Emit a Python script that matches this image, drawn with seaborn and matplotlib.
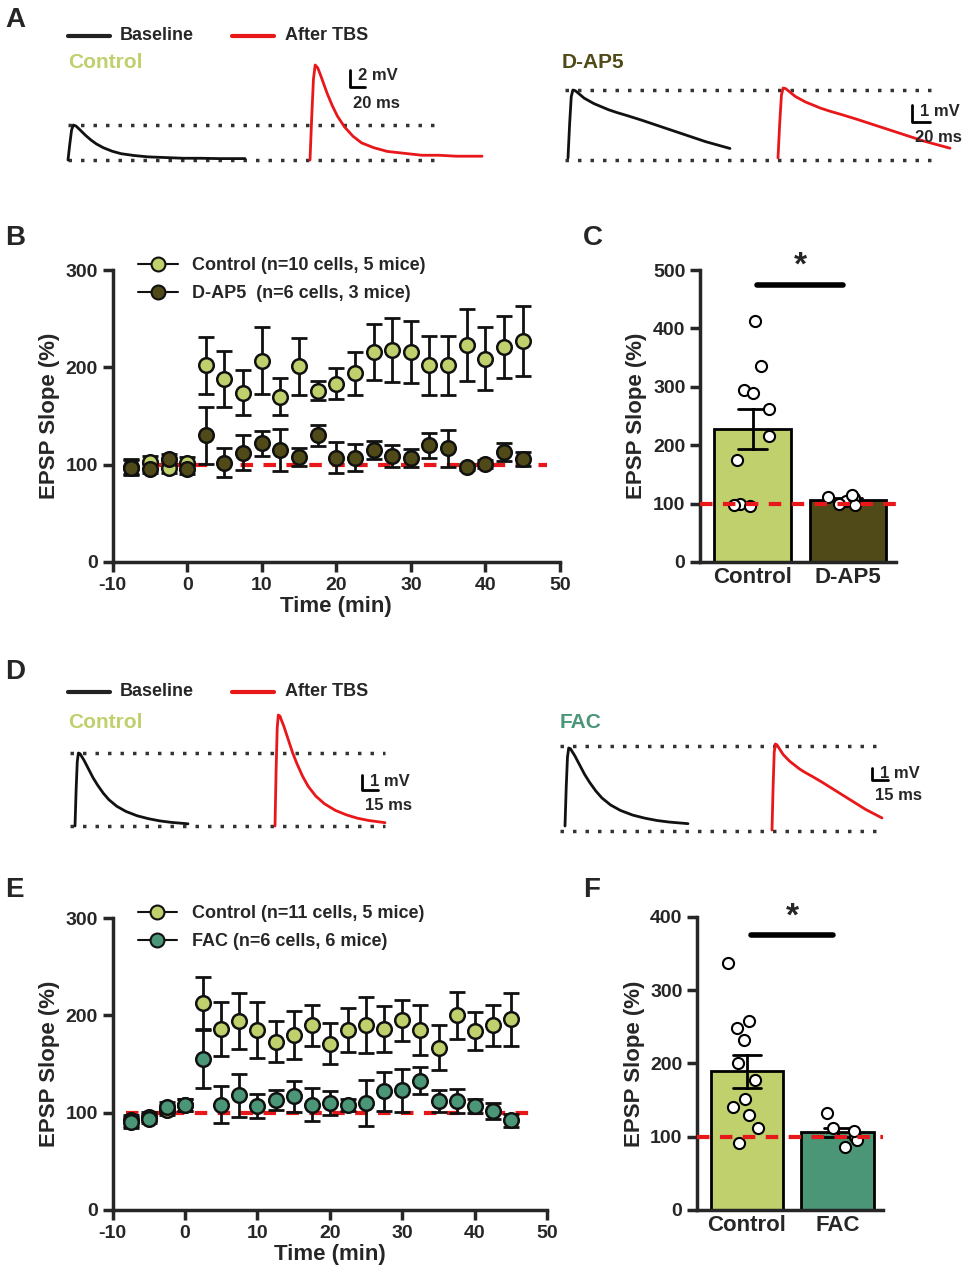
import numpy as np
import pandas as pd
import seaborn as sns
import matplotlib.pyplot as plt
from matplotlib.lines import Line2D

sns.set_style("ticks")
plt.rcParams['font.family'] = ['Liberation Sans', 'DejaVu Sans']
plt.rcParams['font.weight'] = 'bold'
plt.rcParams['axes.labelweight'] = 'bold'
plt.rcParams['axes.unicode_minus'] = False

# colours
c_ctrl = '#bfd06c'
c_ap5 = '#4f4a17'
c_fac = '#4a9676'
c_red = '#e8171a'

# ---- time course data (B) ----
time = [-7.5, -5, -2.5, 0, 2.5, 5, 7.5, 10, 12.5, 15, 17.5, 20, 22.5, 25, 27.5, 30,
        32.5, 35, 37.5, 40, 42.5, 45]
b_ctrl = [98, 103, 97, 102, 202, 188, 174, 207, 170, 201, 176, 183, 194, 216, 218, 216,
          202, 202, 223, 209, 221, 227]
b_ctrl_err = [8, 6, 6, 6, 29, 29, 23, 34, 19, 29, 10, 16, 22, 29, 33, 32, 30, 30, 37, 32, 32, 36]
b_ap5 = [97, 96, 106, 96, 130, 102, 112, 122, 115, 108, 130, 107, 107, 115, 109, 107,
         120, 117, 98, 101, 113, 106]
b_ap5_err = [8, 5, 5, 6, 29, 15, 18, 13, 22, 9, 11, 16, 14, 9, 11, 9, 13, 19, 3, 4, 9, 7]

# ---- time course data (E) ----
e_ctrl = [92, 96, 103, 108, 213, 186, 194, 185, 173, 180, 190, 171, 185, 190, 186, 195,
          185, 167, 200, 184, 190, 196]
e_ctrl_err = [6, 5, 5, 6, 27, 28, 29, 29, 21, 25, 21, 21, 23, 29, 24, 21, 26, 23, 24, 20, 21, 27]
e_fac = [90, 94, 106, 108, 155, 108, 118, 107, 113, 117, 108, 110, 108, 110, 122, 123,
         133, 112, 112, 107, 102, 92]
e_fac_err = [6, 5, 5, 6, 30, 19, 22, 12, 10, 16, 17, 12, 6, 24, 20, 22, 14, 11, 12, 7, 8, 7]

# ---- bar data (C, F) ----
c_ctrl_pts = [412, 335, 295, 290, 262, 215, 175, 100, 98, 96]
c_ap5_pts = [112, 104, 110, 99, 97, 115]
f_ctrl_pts = [337, 258, 248, 232, 200, 178, 152, 140, 130, 112, 92]
f_fac_pts = [133, 112, 100, 96, 86, 108]

# ---- example trace shapes (normalised time, normalised amplitude) ----
tr_t = [0, 0.01, 0.02, 0.03, 0.045, 0.06, 0.08, 0.1, 0.13, 0.16, 0.2, 0.25, 0.3, 0.37,
        0.45, 0.55, 0.65, 0.75, 0.85, 1.0]
tr_fast = [0, 0.45, 0.85, 1.0, 0.97, 0.9, 0.8, 0.7, 0.57, 0.46, 0.35, 0.25, 0.18, 0.13,
           0.09, 0.07, 0.05, 0.05, 0.04, 0.04]
tr_mid = [0, 0.5, 0.88, 1.0, 0.99, 0.95, 0.9, 0.84, 0.75, 0.66, 0.56, 0.45, 0.36, 0.27,
          0.2, 0.14, 0.1, 0.07, 0.05, 0.03]
tr_slow = [0, 0.5, 0.9, 1.0, 0.99, 0.96, 0.92, 0.88, 0.84, 0.8, 0.76, 0.71, 0.67, 0.62,
           0.56, 0.48, 0.4, 0.32, 0.24, 0.14]

fig = plt.figure(figsize=(9.79, 12.8), dpi=100)
ov = fig.add_axes([0, 0, 1, 1])
ov.set_xlim(0, 979)
ov.set_ylim(1280, 0)
ov.axis('off')


def trace(x0, x1, ybase, ypeak, shape, color):
    t = np.array(tr_t)
    v = np.array(shape)
    ov.plot(x0 + t * (x1 - x0), ybase - v * (ybase - ypeak), color=color, lw=2)


def dotted(x0, x1, y):
    ov.plot([x0, x1], [y, y], color='#333333', lw=2.5, ls=(0, (1, 2.6)))


def scalebar(x, y0, y1, x1, t1, t2):
    ov.plot([x, x, x1], [y0, y1, y1], color='black', lw=2)
    ov.text(x + 8, y0 + 6, t1, fontsize=12, fontweight='bold', va='center')
    ov.text(x + 3, y1 + 16, t2, fontsize=12, fontweight='bold', va='center')


def tlegend(y):
    ov.plot([68, 110], [y, y], color='#222222', lw=3)
    ov.text(120, y, 'Baseline', fontsize=13, fontweight='bold', va='center')
    ov.plot([232, 274], [y, y], color=c_red, lw=3)
    ov.text(285, y - 1, 'After TBS', fontsize=13, fontweight='bold', va='center')


# panel A
tlegend(36)
ov.text(68, 63, 'Control', color=c_ctrl, fontsize=15, fontweight='bold', va='center')
ov.text(562, 63, 'D-AP5', color=c_ap5, fontsize=15, fontweight='bold', va='center')
dotted(68, 435, 125); dotted(68, 435, 160)
trace(68, 245, 160, 125, tr_fast, '#111111')
trace(310, 482, 160, 65, tr_fast, c_red)
scalebar(350, 70, 87, 365, '2 mV', '20 ms')
dotted(565, 935, 90); dotted(565, 935, 160)
trace(568, 730, 158, 90, tr_slow, '#111111')
trace(778, 950, 158, 88, tr_slow, c_red)
scalebar(912, 105, 122, 930, '1 mV', '20 ms')

# panel D
tlegend(692)
ov.text(68, 722, 'Control', color=c_ctrl, fontsize=15, fontweight='bold', va='center')
ov.text(560, 722, 'FAC', color=c_fac, fontsize=15, fontweight='bold', va='center')
dotted(70, 385, 753); dotted(70, 385, 826)
trace(75, 188, 826, 753, tr_mid, '#111111')
trace(275, 385, 826, 715, tr_mid, c_red)
scalebar(362, 775, 790, 378, '1 mV', '15 ms')
dotted(560, 880, 746); dotted(560, 880, 831)
trace(565, 688, 826, 748, tr_mid, '#111111')
trace(772, 882, 830, 744, tr_slow, c_red)
scalebar(872, 768, 780, 888, '1 mV', '15 ms')

for lbl, x, y in [('A', 5, 20), ('B', 5, 238), ('C', 583, 238), ('D', 5, 672),
                  ('E', 5, 890), ('F', 583, 890)]:
    ov.text(x, y, lbl, fontsize=20, fontweight='bold', va='center')


def style(ax):
    sns.despine(ax=ax)
    for s in ['left', 'bottom']:
        ax.spines[s].set_linewidth(2.5)
    ax.tick_params(width=2.5, length=7, labelsize=14)
    for t in ax.get_xticklabels() + ax.get_yticklabels():
        t.set_fontweight('bold')


def timecourse(rect, s1, e1, s2, e2, c2, xlim, labels):
    ax = fig.add_axes(rect)
    ax.axhline(100, color=c_red, lw=3, ls=(0, (3, 2.5)), xmin=0.03, xmax=0.97, zorder=1)
    for s, e, c in [(s1, e1, c_ctrl), (s2, e2, c2)]:
        ax.errorbar(time, s, yerr=e, fmt='none', ecolor='#111111', elinewidth=2,
                    capsize=6, capthick=2, zorder=2)
        sns.scatterplot(x=time, y=s, ax=ax, color=c, s=110, edgecolor='#111111',
                        linewidth=1.8, zorder=3)
    ax.set_xlim(*xlim)
    ax.set_ylim(0, 300)
    ax.set_xticks(range(-10, 51, 10))
    ax.set_yticks([0, 100, 200, 300])
    ax.set_xlabel('Time (min)', fontsize=16, labelpad=2)
    ax.set_ylabel('EPSP Slope (%)', fontsize=16)
    hs = [Line2D([], [], color='#111111', lw=1.5, marker='o', markersize=10,
                 markerfacecolor=c, markeredgecolor='#111111', markeredgewidth=1.5)
          for c in (c_ctrl, c2)]
    ax.legend(hs, labels, loc='upper left', bbox_to_anchor=(0.02, 1.1),
              frameon=False, prop={'weight': 'bold', 'size': 13},
              handlelength=2.2, labelspacing=0.6)
    style(ax)
    return ax


timecourse([0.115, 0.561, 0.457, 0.228], b_ctrl, b_ctrl_err, b_ap5, b_ap5_err, c_ap5,
           (-10, 50), ['Control (n=10 cells, 5 mice)', 'D-AP5  (n=6 cells, 3 mice)'])
timecourse([0.115, 0.0547, 0.444, 0.228], e_ctrl, e_ctrl_err, e_fac, e_fac_err, c_fac,
           (-10, 50), ['Control (n=11 cells, 5 mice)', 'FAC (n=6 cells, 6 mice)'])


def barpanel(rect, p1, p2, names, c2, ymax, sig_y):
    ax = fig.add_axes(rect)
    df = pd.DataFrame({'group': [names[0]] * len(p1) + [names[1]] * len(p2),
                       'val': p1 + p2})
    sns.barplot(data=df, x='group', y='val', hue='group', palette=[c_ctrl, c2],
                saturation=1, errorbar='se', capsize=0.3,
                err_kws={'color': 'black', 'linewidth': 2},
                edgecolor='black', linewidth=2, width=0.8, ax=ax, legend=False)
    sns.stripplot(data=df, x='group', y='val', ax=ax, jitter=0.22, size=8,
                  color='white', edgecolor='black', linewidth=1.5)
    ax.axhline(100, color=c_red, lw=3, ls=(0, (3, 2.5)), zorder=5)
    ax.plot([0.05, 0.95], [sig_y, sig_y], color='black', lw=4, clip_on=False)
    ax.text(0.5, sig_y * 1.01, '*', ha='center', va='bottom', fontsize=24, fontweight='bold')
    ax.set_ylim(0, ymax)
    ax.set_xlim(-0.55, 1.5)
    ax.set_xlabel('')
    ax.set_ylabel('EPSP Slope (%)', fontsize=16)
    style(ax)
    ax.tick_params(axis='x', length=0, labelsize=16)
    return ax


np.random.seed(3)
barpanel([0.715, 0.561, 0.2, 0.228], c_ctrl_pts, c_ap5_pts, ['Control', 'D-AP5'],
         c_ap5, 500, 475)
barpanel([0.712, 0.0547, 0.19, 0.229], f_ctrl_pts, f_fac_pts, ['Control', 'FAC'],
         c_fac, 400, 375)

fig.savefig('out.png', dpi=100)
